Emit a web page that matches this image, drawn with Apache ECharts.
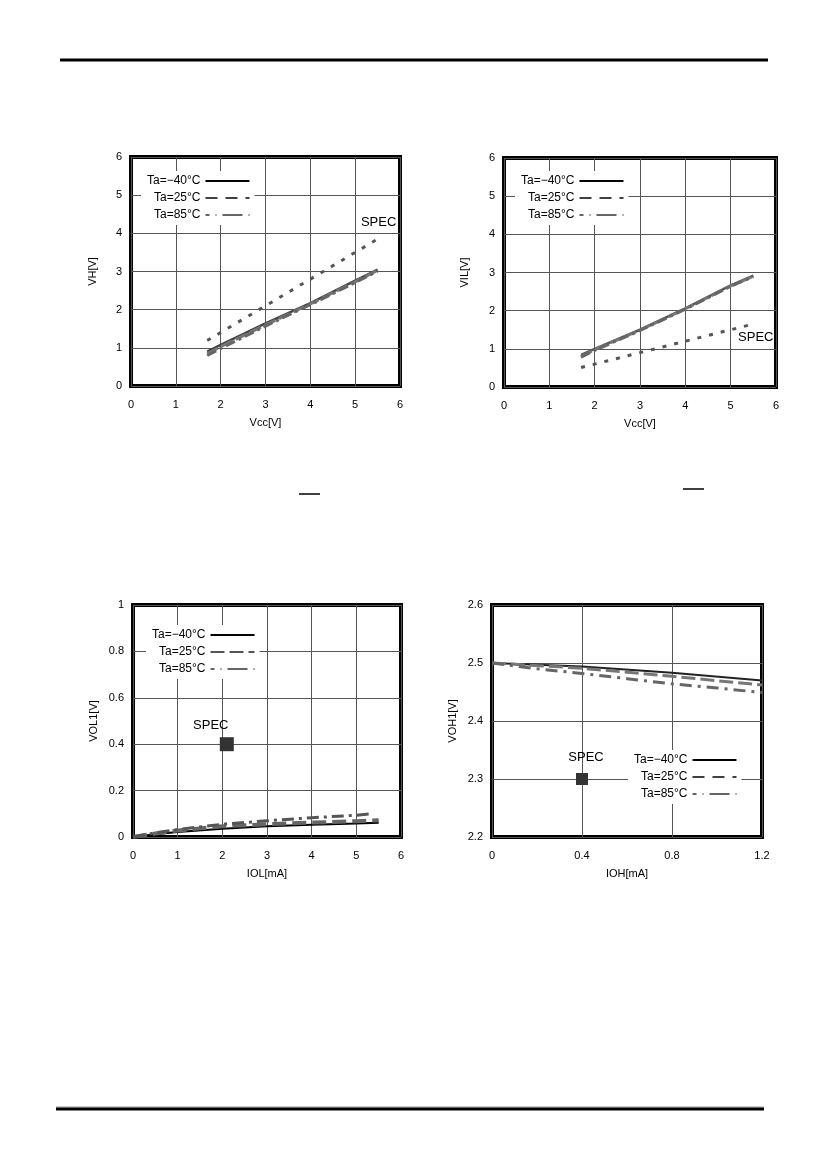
<!DOCTYPE html>
<html>
<head>
<meta charset="utf-8">
<script src="https://cdn.jsdelivr.net/npm/echarts@6/dist/echarts.min.js"></script>
<style>
html, body { margin: 0; padding: 0; background: #fff; }
#main { width: 827px; height: 1169px; }
</style>
</head>
<body>
<div id="main"></div>
<script>
// legend names
var names = ['Ta=\u221240\u00b0C', 'Ta=25\u00b0C', 'Ta=85\u00b0C'];

// chart 1 : VH vs Vcc
var vhM40 = [[1.7, 0.9], [2, 1.08], [3, 1.64], [4, 2.17], [5, 2.76], [5.5, 3.05]];
var vh25 = [[1.7, 0.84], [2, 1.03], [3, 1.6], [4, 2.15], [5, 2.73], [5.5, 3.03]];
var vh85 = [[1.7, 0.8], [2, 0.98], [3, 1.57], [4, 2.13], [5, 2.71], [5.5, 3.01]];
var vhSpec = [[1.7, 1.19], [2, 1.4], [3, 2.1], [4, 2.8], [5, 3.5], [5.5, 3.85]];

// chart 2 : VIL vs Vcc
var vilM40 = [[1.7, 0.84], [2, 1.0], [3, 1.5], [4, 2.06], [5, 2.66], [5.5, 2.92]];
var vil25 = [[1.7, 0.8], [2, 0.98], [3, 1.49], [4, 2.05], [5, 2.65], [5.5, 2.9]];
var vil85 = [[1.7, 0.78], [2, 0.96], [3, 1.48], [4, 2.04], [5, 2.64], [5.5, 2.89]];
var vilSpec = [[1.7, 0.51], [2, 0.6], [3, 0.9], [4, 1.2], [5, 1.5], [5.4, 1.62]];

// chart 3 : VOL1 vs IOL
var volM40 = [[0, 0], [0.5, 0.012], [1, 0.022], [2, 0.036], [3, 0.046], [4, 0.053], [5, 0.058], [5.5, 0.061]];
var vol25 = [[0, 0], [0.5, 0.015], [1, 0.028], [2, 0.046], [3, 0.055], [4, 0.062], [5, 0.068], [5.5, 0.072]];
var vol85 = [[0, 0], [0.5, 0.018], [1, 0.032], [2, 0.055], [3, 0.07], [4, 0.083], [5, 0.094], [5.3, 0.1]];
var volSpec = [[2.1, 0.4]];

// chart 4 : VOH1 vs IOH
var vohM40 = [[0, 2.5], [0.4, 2.494], [0.8, 2.483], [1.2, 2.47]];
var voh25 = [[0, 2.5], [0.4, 2.491], [0.8, 2.477], [1.2, 2.462]];
var voh85 = [[0, 2.5], [0.2, 2.49], [0.4, 2.482], [0.6, 2.473], [0.8, 2.464], [1.0, 2.457], [1.2, 2.449]];
var vohSpec = [[0.4, 2.3]];

var FONT = 'Liberation Sans';

function grid(l, t, w, h) {
    return { left: l, top: t, width: w, height: h, show: true,
        borderColor: '#000', borderWidth: 4, backgroundColor: '#fff', z: 0 };
}
function axis(idx, min, max, step, name, isY, gap) {
    return {
        type: 'value', gridIndex: idx, min: min, max: max, interval: step,
        name: name, nameLocation: 'middle', nameGap: gap,
        nameTextStyle: { color: '#000', fontSize: 11, fontFamily: FONT },
        axisLine: { show: false }, axisTick: { show: false },
        axisLabel: { color: '#000', fontSize: 11, fontFamily: FONT, margin: isY ? 9 : 13,
            formatter: function (v) { return String(+v.toFixed(2)); } },
        splitLine: { show: true, lineStyle: { color: '#555', width: 1 } }
    };
}
function legend(left, top, styles) {
    return {
        orient: 'vertical', left: left, top: top, align: 'right',
        backgroundColor: '#fff', padding: [4, 4, 4, 6], itemGap: 5,
        itemWidth: 44, itemHeight: 12,
        textStyle: { color: '#000', fontSize: 12, fontFamily: FONT },
        selectedMode: false,
        data: names.map(function (n, i) {
            return { name: n, itemStyle: { opacity: 0 }, lineStyle: styles[i] };
        })
    };
}
function line(name, idx, data, color, width, type) {
    return { type: 'line', name: name, xAxisIndex: idx, yAxisIndex: idx, data: data,
        symbol: 'none', silent: true, animation: false,
        lineStyle: { color: color, width: width, type: type }, z: 3 };
}
function specLine(idx, data) {
    return { type: 'line', name: 'SPEC', xAxisIndex: idx, yAxisIndex: idx, data: data,
        symbol: 'none', silent: true, animation: false,
        lineStyle: { color: '#555', width: 3, type: [4, 8] }, z: 4 };
}
function specText(idx, p, pos, offset, dist) {
    return { type: 'scatter', name: 'SPEC', xAxisIndex: idx, yAxisIndex: idx, data: [p],
        symbol: 'rect', symbolSize: 2, silent: true, animation: false,
        itemStyle: { color: '#fff', opacity: 1 },
        label: { show: true, position: pos, distance: dist, offset: offset, formatter: 'SPEC',
            color: '#000', opacity: 1, fontSize: 13, fontFamily: FONT }, z: 2 };
}
function specPoint(idx, data, size, offset, dist) {
    return { type: 'scatter', name: 'SPEC', xAxisIndex: idx, yAxisIndex: idx, data: data,
        symbol: 'rect', symbolSize: size, silent: true, animation: false,
        itemStyle: { color: '#333', opacity: 1 },
        label: { show: true, position: 'top', distance: dist, offset: offset, formatter: 'SPEC',
            color: '#000', opacity: 1, fontSize: 13, fontFamily: FONT }, z: 5 };
}

var solidK = { color: '#000', width: 2, type: 'solid' };
var dashK = { color: '#000', width: 1.5, type: [12, 8] };
var dashDotG = { color: '#333', width: 1.5, type: [4, 6, 1, 6, 16, 0] };
var dashG = { color: '#555', width: 2, type: [14, 5] };

var option = {
    animation: false,
    grid: [
        grid(131, 157, 269, 229),
        grid(504, 158, 272, 229),
        grid(133, 605, 268, 232),
        grid(492, 605, 270, 232)
    ],
    xAxis: [
        axis(0, 0, 6, 1, 'Vcc[V]', false, 31),
        axis(1, 0, 6, 1, 'Vcc[V]', false, 31),
        axis(2, 0, 6, 1, 'IOL[mA]', false, 31),
        axis(3, 0, 1.2, 0.4, 'IOH[mA]', false, 31)
    ],
    yAxis: [
        axis(0, 0, 6, 1, 'VH[V]', true, 33),
        axis(1, 0, 6, 1, 'VIL[V]', true, 34),
        axis(2, 0, 1, 0.2, 'VOL1[V]', true, 34),
        axis(3, 2.2, 2.6, 0.1, 'VOH1[V]', true, 34)
    ],
    legend: [
        legend(141, 171, [solidK, dashK, dashDotG]),
        legend(515, 171, [solidK, dashK, dashDotG]),
        legend(146, 625, [solidK, dashG, dashDotG]),
        legend(628, 750, [solidK, dashK, dashDotG])
    ],
    graphic: [
        { type: 'line', shape: { x1: 60, y1: 60, x2: 768, y2: 60 }, style: { stroke: '#000', lineWidth: 3 } },
        { type: 'line', shape: { x1: 56, y1: 1107, x2: 764, y2: 1107 }, style: { stroke: '#999', lineWidth: 1 } },
        { type: 'line', shape: { x1: 56, y1: 1109, x2: 764, y2: 1109 }, style: { stroke: '#000', lineWidth: 3 } },
        { type: 'line', shape: { x1: 299, y1: 494, x2: 320, y2: 494 }, style: { stroke: '#000', lineWidth: 1.5 } },
        { type: 'line', shape: { x1: 683, y1: 489, x2: 704, y2: 489 }, style: { stroke: '#000', lineWidth: 1.5 } }
    ],
    series: [
        line(names[0], 0, vhM40, '#444', 2.5, 'solid'),
        line(names[1], 0, vh25, '#777', 3, [12, 4]),
        line(names[2], 0, vh85, '#666', 3, [10, 4, 3, 4]),
        specLine(0, vhSpec),
        specText(0, vhSpec[vhSpec.length - 1], 'top', [1, 0], 9),

        line(names[0], 1, vilM40, '#555', 2.5, 'solid'),
        line(names[1], 1, vil25, '#777', 3, [12, 4]),
        line(names[2], 1, vil85, '#666', 3, [10, 4, 3, 4]),
        specLine(1, vilSpec),
        specText(1, vilSpec[vilSpec.length - 1], 'bottom', [7, 0], 5),

        line(names[0], 2, volM40, '#000', 2, 'solid'),
        line(names[1], 2, vol25, '#666', 4, [14, 6]),
        line(names[2], 2, vol85, '#555', 3, [12, 5, 3, 5]),
        specPoint(2, volSpec, 14, [-16, 0], 5),

        line(names[0], 3, vohM40, '#222', 2, 'solid'),
        line(names[1], 3, voh25, '#777', 3, [14, 5]),
        line(names[2], 3, voh85, '#666', 3, [12, 6, 3, 6]),
        specPoint(3, vohSpec, 12, [4, 0], 9)
    ]
};

var chart = echarts.init(document.getElementById('main'));
chart.setOption(option);
</script>
</body>
</html>
